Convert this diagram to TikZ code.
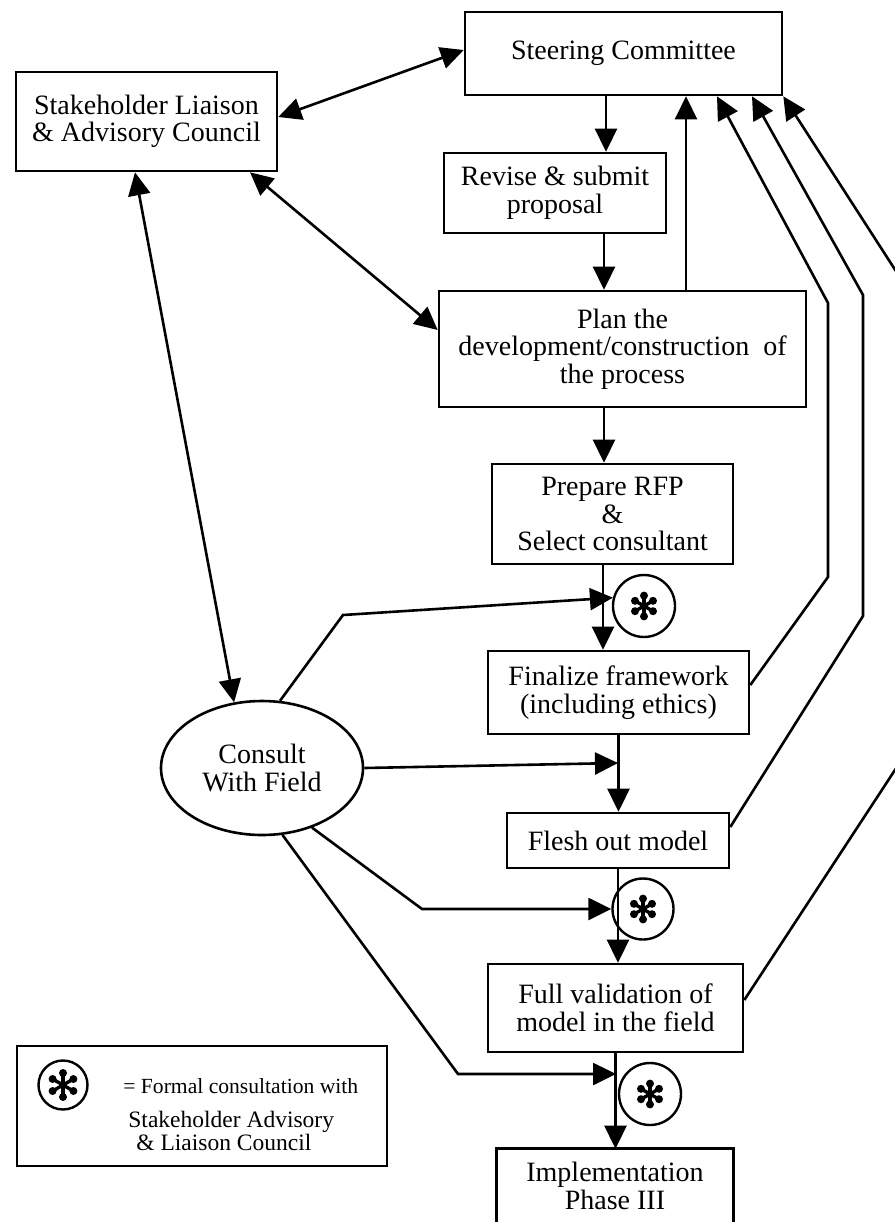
\documentclass[tikz,border=0pt]{standalone}
\usepackage{fontspec}
\setmainfont{Liberation Serif}
\usetikzlibrary{arrows.meta,shapes.geometric,calc}
\newcommand{\mainf}{\fontsize{14pt}{13.8pt}\selectfont}
\newcommand{\legf}{\fontsize{10.8pt}{10.5pt}\selectfont}
\newcommand{\legg}{\fontsize{11.75pt}{10.5pt}\selectfont}
\begin{document}
\begin{tikzpicture}[x=0.5pt,y=-0.5pt,
  box/.style={draw, line width=1.3pt, inner sep=0pt, align=center, font=\mainf},
  ln/.style={line width=1.3pt},
  arr/.style={line width=1.3pt, -{Triangle[length=11.5pt,width=11pt]}},
  darr/.style={line width=1.3pt, {Triangle[length=11.5pt,width=11pt]}-{Triangle[length=11.5pt,width=11pt]}},
  asterc/.style={circle, draw, line width=1.2pt, inner sep=0pt,
    path picture={\foreach \a in {30,90,...,330}{
      \draw[line width=1.7pt, line cap=round] (path picture bounding box.center) -- ++(\a:#1);
      \fill (path picture bounding box.center) ++(\a:#1) circle (2pt);}}}
]
\useasboundingbox (0,0) rectangle (895,1222);
\clip (0,0) rectangle (895,1222);
\fill[white] (0,0) rectangle (895,1222);

% nodes
\node[box, minimum width=158.5pt, minimum height=41.5pt] (steer) at (623.5,53.5) {Steering Committee};
\node[box, minimum width=130.5pt, minimum height=49.5pt] (stake) at (146.5,121.5) {Stakeholder Liaison\\\& Advisory Council};
\node[box, minimum width=111pt, minimum height=40pt] (revise) at (555,193) {Revise \& submit\\proposal};
\node[box, minimum width=183.5pt, minimum height=58pt] (plan) at (622.5,349) {Plan the\\development/construction\ \ of\\the process};
\node[box, minimum width=120.5pt, minimum height=50pt] (rfp) at (612.5,514) {Prepare RFP\\\&\\Select consultant};
\node[asterc=5.2pt, minimum size=31pt] (c1) at (644,606) {};
\node[box, minimum width=130.5pt, minimum height=41.5pt] (final) at (618.5,692.5) {Finalize framework\\(including ethics)};
\node[box, minimum width=111pt, minimum height=27.5pt] (flesh) at (618,840.5) {Flesh out model};
\node[asterc=5.2pt, minimum size=30.5pt] (c2) at (643,909) {};
\node[box, minimum width=127.5pt, minimum height=44pt] (valid) at (615.5,1008) {Full validation of\\model in the field};
\node[asterc=5.2pt, minimum size=31pt] (c3) at (650,1094) {};
\node[box, draw=none, minimum width=117pt, minimum height=36pt] (impl) at (615,1186) {Implementation\\Phase III};
\draw[ln] (impl.south west) -- (impl.north west) -- (impl.north east) -- (impl.south east);
\node[ellipse, draw, line width=1.3pt, inner sep=0pt, minimum width=101pt, minimum height=67pt, align=center, font=\mainf] (ell) at (262,768) {Consult\\With Field};

% legend
\node[draw, line width=1.3pt, minimum width=185pt, minimum height=60pt, inner sep=0pt] (legend) at (202,1106) {};
\node[asterc=6pt, minimum size=24.5pt] (lc) at (63,1085) {};
\node[anchor=west, font=\legf, inner sep=0pt] (lt1) at (123,1086) {= Formal consultation with};
\node[anchor=west, font=\legg, align=left, inner sep=0pt] (lt2) at (128,1131) {Stakeholder Advisory\\\hspace*{4pt}\& Liaison Council};

% helper coordinates
\coordinate (s1) at ([xshift=-8.75pt]steer.south);
\coordinate (s2) at ([xshift=24.5pt]revise.south);
\coordinate (s3) at ([xshift=31.75pt]plan.north);
\coordinate (s4) at ([xshift=-9.25pt]plan.south);
\coordinate (s5) at ([xshift=-4.75pt]rfp.south);
\coordinate (b1) at (343,615);
\coordinate (j2) at (618,763);
\coordinate (b2) at (422,909);
\coordinate (b3) at (458,1074);
\coordinate (j3) at (616,1074);
\coordinate (a1) at (828,577);
\coordinate (a2) at (828,303);
\coordinate (r1) at (863,616);
\coordinate (r2) at (863,295);
\coordinate (q1) at (912,744);
\coordinate (q2) at (912,296);

% connectors
\draw[darr] ([yshift=2.25pt]stake.east) -- ([yshift=1.75pt]steer.west);
\draw[darr] ([xshift=51.75pt]stake.south) -- ([yshift=9.5pt]plan.west);
\draw[darr] ([xshift=-5.75pt]stake.south) -- (ell.113);
\draw[arr] (s1) -- (s1 |- revise.north);
\draw[arr] (s2) -- (s2 |- plan.north);
\draw[arr] (s3) -- (s3 |- steer.south);
\draw[arr] (s4) -- (s4 |- rfp.north);
\draw[arr] (s5) -- (s5 |- final.north);
\draw[arr] (final.south) -- (final.south |- flesh.north);
\draw[arr] (flesh.south) -- (flesh.south |- valid.north);
\draw[arr] (valid.south) -- (valid.south |- impl.north);

\draw[arr] (ell.75) -- (b1) -- (c1.165);
\draw[arr] (ell.east) -- (j2);
\draw[arr] (ell.310) -- (b2) -- (c2.west);
\draw[arr] (ell.287) -- (b3) -- (j3);

\draw[arr] ([yshift=3.75pt]final.east) -- (a1) -- (a2) -- ([xshift=46.75pt]steer.south);
\draw[arr] ([yshift=6.75pt]flesh.east) -- (r1) -- (r2) -- ([xshift=64.25pt]steer.south);
\draw[arr] ([yshift=4pt]valid.east) -- (q1) -- (q2) -- (steer.south east);
\end{tikzpicture}
\end{document}
